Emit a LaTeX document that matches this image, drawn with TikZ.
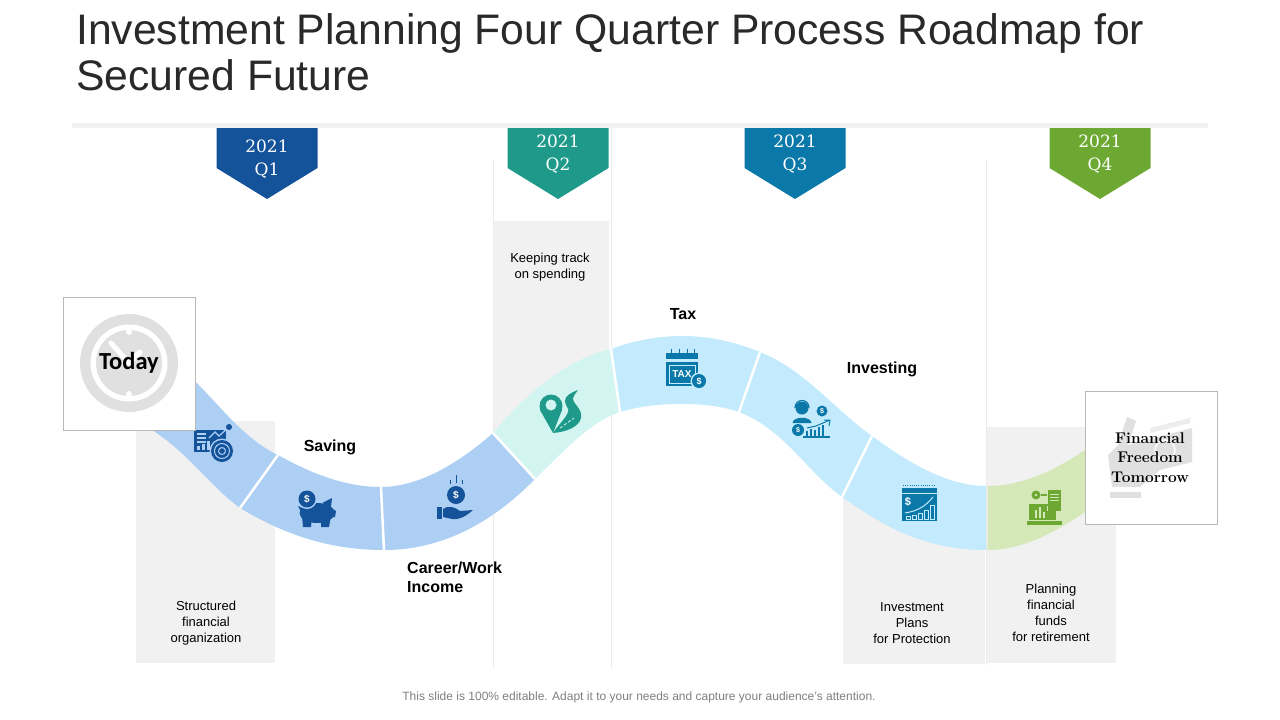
\documentclass[tikz,border=0pt]{standalone}
\usepackage{fontspec}
\setsansfont{Liberation Sans}
\newfontfamily\calibrifont{Carlito}
\newfontfamily\tagfont{DejaVu Serif}
\definecolor{qone}{HTML}{14539A}
\definecolor{qtwo}{HTML}{1F9A8A}
\definecolor{qthree}{HTML}{0A78A8}
\definecolor{qfour}{HTML}{6CA832}
\definecolor{bandblue}{HTML}{AECFF4}
\definecolor{bandmint}{HTML}{D3F5F1}
\definecolor{bandsky}{HTML}{C3EBFD}
\definecolor{bandgreen}{HTML}{D5E8B8}
\definecolor{panelgray}{HTML}{F1F1F1}
\definecolor{linegray}{HTML}{EBEBEB}
\definecolor{boxline}{HTML}{B8B8B8}
\definecolor{icongray}{HTML}{E0E0E0}
\tikzset{
  panel/.style={fill=panelgray,draw=none},
  guide/.style={draw=linegray,line width=0.8},
  divider/.style={draw=white,line width=2.5},
  heading/.style={font=\sffamily\bfseries\fontsize{16}{19.5}\selectfont,text=black,inner sep=0},
  note/.style={font=\sffamily\fontsize{13}{16}\selectfont,text=black,align=center,inner sep=0},
  quarter/.style={font=\tagfont\fontsize{17}{23}\selectfont,text=white,align=center,inner sep=0},
  endbox/.style={fill=white,draw=boxline,line width=0.8},
  coinmark/.style={font=\sffamily\bfseries\fontsize{#1}{#1}\selectfont,text=white,inner sep=0},
  coinmark/.default=10
}
\begin{document}
\begin{tikzpicture}[x=1pt,y=-1pt]
  \useasboundingbox (0,0) rectangle (1280,720);
  \fill[white] (0,0) rectangle (1280,720);
  % title and rule
  \node[anchor=north west,inner sep=0,align=left,text=black!84,font=\sffamily\fontsize{42.7}{45.5}\selectfont] (title) at (76,13.5) {Investment Planning Four Quarter Process Roadmap for\\Secured Future};
  \fill[panelgray] (72,123) rectangle (1208,128);
  % grey panels and thin guides
  \draw[guide] (493,160) -- (493,668);
  \draw[guide] (611,128) -- (611,668);
  \draw[guide] (986,160) -- (986,665);
  \fill[panel] (136,421) rectangle (275,663);
  \fill[panel] (494,221) -- (609,221) -- (609,390) -- (494,431) -- cycle;
  \fill[panel] (843,490) rectangle (985,664);
  \fill[panel] (987,427) rectangle (1116,663);
  % quarter tags
  \foreach \px/\py/\qcol/\qname in {267/146/qone/1,558/141/qtwo/2,795/141/qthree/3,1100/141/qfour/4}{
    \fill[\qcol] (\px-50.5,128) -- (\px+50.5,128) -- (\px+50.5,168) -- (\px,199) -- (\px-50.5,168) -- cycle;
    \node[quarter,anchor=north] (tag\qname) at (\px,\py-6.5) {2021\\Q\qname};
  }
  % band junctions
  \coordinate (t1) at (278,455);
  \coordinate (b1) at (240,508);
  \coordinate (t2) at (381,487);
  \coordinate (b2) at (384,550);
  \coordinate (t3) at (493,433);
  \coordinate (b3) at (535,479);
  \coordinate (t4) at (611,349);
  \coordinate (b4) at (620,412);
  \coordinate (t5) at (760,352);
  \coordinate (b5) at (739,412);
  \coordinate (t6) at (872,436);
  \coordinate (b6) at (842,497);
  \coordinate (t7) at (986,486);
  \coordinate (b7) at (986,550);
  % band pieces
  \fill[bandblue] (185,372) .. controls (215,398) and (240,437) .. (t1) -- (b1) .. controls (205,482) and (185,447) .. (140,423) -- cycle;
  \fill[bandblue] (t1) .. controls (310,473) and (345,487) .. (t2) -- (b2) .. controls (330,550) and (285,535) .. (b1) -- cycle;
  \fill[bandblue] (t2) .. controls (420,487) and (460,462) .. (t3) -- (b3) .. controls (495,520) and (445,550) .. (b2) -- cycle;
  \fill[bandmint] (t3) .. controls (525,395) and (565,360) .. (t4) -- (b4) .. controls (590,422) and (565,450) .. (b3) -- cycle;
  \fill[bandsky] (t4) .. controls (635,340) and (660,336) .. (682,336) .. controls (710,336) and (735,342) .. (t5) -- (b5) .. controls (722,406) and (702,404) .. (682,404) .. controls (660,404) and (640,406) .. (b4) -- cycle;
  \fill[bandsky] (t5) .. controls (805,370) and (835,410) .. (t6) -- (b6) .. controls (805,470) and (785,430) .. (b5) -- cycle;
  \fill[bandsky] (t6) .. controls (905,460) and (945,486) .. (t7) -- (b7) .. controls (925,550) and (885,527) .. (b6) -- cycle;
  \fill[bandgreen] (987.5,486) .. controls (1025,486) and (1060,468) .. (1095,443) -- (1095,505) .. controls (1060,530) and (1025,550) .. (987.5,550) -- cycle;
  \draw[divider] (t1) -- (b1);
  \draw[divider] (t2) -- (b2);
  \draw[divider] (t3) -- (b3);
  \draw[divider] (t4) -- (b4);
  \draw[divider] (t5) -- (b5);
  \draw[divider] (t6) -- (b6);
  % chart icon
  \fill[qone] (194,430) rectangle (226,452);
  \fill[bandblue] (197,433) rectangle (206,435);
  \fill[bandblue] (197,437) rectangle (206,439);
  \fill[bandblue] (197,441) rectangle (206,443);
  \fill[bandblue] (197,446) rectangle (200,450);
  \fill[bandblue] (202,444) rectangle (205,450);
  \fill[bandblue] (207,441) rectangle (210,450);
  \draw[bandblue,line width=1.2] (209,438) -- (215,432) -- (219,436) -- (229,427);
  \fill[qone] (229,427) circle (3);
  \fill[bandblue] (222,451) circle (12.5);
  \fill[qone] (222,451) circle (11);
  \draw[bandblue,line width=1] (222,451) circle (7.5);
  \draw[bandblue,line width=1] (222,451) circle (3.5);
  % piggy icon
  \fill[qone] (317,513) ellipse (17.5 and 10);
  \fill[qone] (298,506) -- (310,511) -- (304,518) -- cycle;
  \fill[qone] (302,516) -- (312,516) -- (311,527) -- (303,527) -- cycle;
  \fill[qone] (321,516) -- (331,516) -- (329,527) -- (321,527) -- cycle;
  \fill[qone] (322,503) -- (332,498) -- (331,507) -- cycle;
  \fill[qone] (330,507) -- (336,511) -- (335,517) -- (330,517) -- cycle;
  \fill[bandblue] (307,499) circle (10);
  \fill[qone] (307,499) circle (8.5);
  \node[coinmark=10] (coina) at (307,499) {\$};
  % hand icon
  \fill[qone] (456,495) circle (9);
  \node[coinmark=10] (coinb) at (456,495) {\$};
  \draw[qone,line width=0.9] (456,475) -- (456,483) (450,480) -- (450,484) (462,480) -- (462,484);
  \fill[qone] (437,507) rectangle (442,519);
  \fill[qone] (443,509) .. controls (448,505) and (455,507) .. (460,511) -- (473,510) .. controls (466,516) and (460,520) .. (452,519) -- (443,517) -- cycle;
  % pin and road icon
  \fill[qtwo] (551,406) circle (11.5);
  \fill[qtwo] (540,410) -- (562,410) -- (553,433) -- cycle;
  \fill[bandmint] (551,405) circle (5.5);
  \fill[qtwo] (578,390) .. controls (570,393) and (565,396) .. (565,401) .. controls (565,406) and (570,409) .. (568,412) .. controls (566,418) and (559,424) .. (553,433) .. controls (566,432) and (579,427) .. (581,418) .. controls (583,409) and (572,403) .. (573,398) .. controls (574,395) and (576,393) .. (578,390) -- cycle;
  \draw[bandmint,line width=0.8,dash pattern=on 3pt off 2pt] (560,428) -- (574,418);
  % tax icon
  \fill[qthree] (666,353) rectangle (698,359);
  \draw[qthree,line width=1] (671,353) -- (671,349) (679,353) -- (679,349) (687,353) -- (687,349) (694,353) -- (694,349);
  \fill[qthree] (666,362) rectangle (698,386);
  \draw[bandsky,line width=0.8] (669,365) rectangle (695,383);
  \node[coinmark=10] (taxword) at (682,374) {TAX};
  \fill[bandsky] (699,381) circle (8.5);
  \fill[qthree] (699,381) circle (7);
  \node[coinmark=9] (coinc) at (699,381) {\$};
  % investor icon
  \fill[qthree] (802,408) circle (6.5);
  \draw[qthree,line width=1.2] (795,408) .. controls (795,398) and (809,398) .. (809,408);
  \fill[qthree] (792.5,423) .. controls (793,416) and (811,416) .. (811.5,423) -- cycle;
  \fill[qthree] (822,411) circle (5.5);
  \node[coinmark=7] (coind) at (822,411) {\$};
  \fill[qthree] (798,430) circle (6);
  \node[coinmark=7] (coine) at (798,430) {\$};
  \draw[qthree,line width=1.3] (803,437) -- (830,437);
  \foreach \bx/\bh in {806/6,810/8,814/7,818/10,822/12}{
    \fill[qthree] (\bx,437) rectangle (\bx+2.2,437-\bh);
  }
  \draw[qthree,line width=1] (807,428) -- (816,426) -- (830,420) (824,420) -- (830,420) -- (829,426);
  % plan icon
  \fill[qthree] (902,488) rectangle (937,521);
  \draw[qthree,line width=0.8,dash pattern=on 1pt off 1.2pt] (903,485) -- (936,485);
  \draw[bandsky,line width=0.7] (902,493) -- (937,493);
  \node[coinmark=11] (coinf) at (908,502) {\$};
  \draw[bandsky,line width=1] (905,513) .. controls (917,511) and (925,507) .. (933,497);
  \foreach \bx/\bh in {906/3,912/4,918/6,924/9,930/14}{
    \draw[bandsky,line width=0.8] (\bx,519) rectangle (\bx+4,519-\bh);
  }
  % laptop icon
  \fill[qfour] (1029,504) rectangle (1056,520);
  \fill[qfour] (1027,521) rectangle (1062,525);
  \fill[qfour] (1048,490) rectangle (1061,511);
  \fill[bandgreen] (1050,494) rectangle (1059,495);
  \fill[bandgreen] (1050,497) rectangle (1059,498);
  \fill[bandgreen] (1050,500) rectangle (1059,501);
  \fill[bandgreen] (1047,506) rectangle (1048,511);
  \fill[bandgreen] (1035,510) rectangle (1037,518);
  \fill[bandgreen] (1039,507) rectangle (1041,518);
  \fill[bandgreen] (1043,512) rectangle (1045,518);
  \fill[qfour] (1036,495) circle (4.5);
  \draw[qfour,line width=1.2] (1041,495) -- (1047,495);
  \fill[bandgreen] (1036,495) circle (1.4);
  % end boxes
  \draw[endbox] (63,297) rectangle (195.5,430);
  \fill[icongray] (129,363) circle (49);
  \fill[white] (129,363) circle (38.5);
  \fill[icongray] (129,363) circle (33);
  \draw[white,line width=5,line cap=round] (129,363) -- (111,343);
  \draw[white,line width=5,line cap=round] (129,363) -- (140,352);
  \fill[white] (129,332) circle (3);
  \fill[white] (129,394) circle (3);
  \draw[endbox] (1085,391) rectangle (1217,524);
  \fill[icongray] (1127,417) -- (1136,421) -- (1128,445) -- (1192,428) -- (1192,462) -- (1160,470) -- (1140,487) -- (1112,487) -- (1108,455) -- (1118,445) -- cycle;
  \fill[icongray!60] (1150,428) -- (1190,418) -- (1190,423) -- (1150,433) -- cycle;
  \draw[white,line width=1.5] (1165,450) circle (10);
  \fill[icongray] (1110,492) rectangle (1141,498);
  % labels
  \node[font=\calibrifont\bfseries\fontsize{24.5}{26}\selectfont,text=black,inner sep=0] (today) at (129,362.5) {Today};
  \node[font=\bfseries\fontsize{15.5}{19.5}\selectfont,text=black,align=center,inner sep=0] (freedom) at (1150,457.5) {Financial\\Freedom\\Tomorrow};
  \node[heading] (saving) at (330,447) {Saving};
  \node[heading] (tax) at (683,314.5) {Tax};
  \node[heading] (investing) at (882,369) {Investing};
  \node[heading,anchor=north west,align=left] (career) at (407,561.5) {Career/Work\\Income};
  \node[note] (spending) at (550,267) {Keeping track\\on spending};
  \node[note] (structured) at (206,623) {Structured\\financial\\organization};
  \node[note] (protection) at (912,623) {Investment\\Plans\\for Protection};
  \node[note] (retirement) at (1051,613) {Planning\\financial\\funds\\for retirement};
  \node[font=\sffamily\fontsize{12}{14}\selectfont,text=black!50,inner sep=0] (footer) at (639,697.5) {This slide is 100\% editable. Adapt it to your needs and capture your audience's attention.};
\end{tikzpicture}
\end{document}
